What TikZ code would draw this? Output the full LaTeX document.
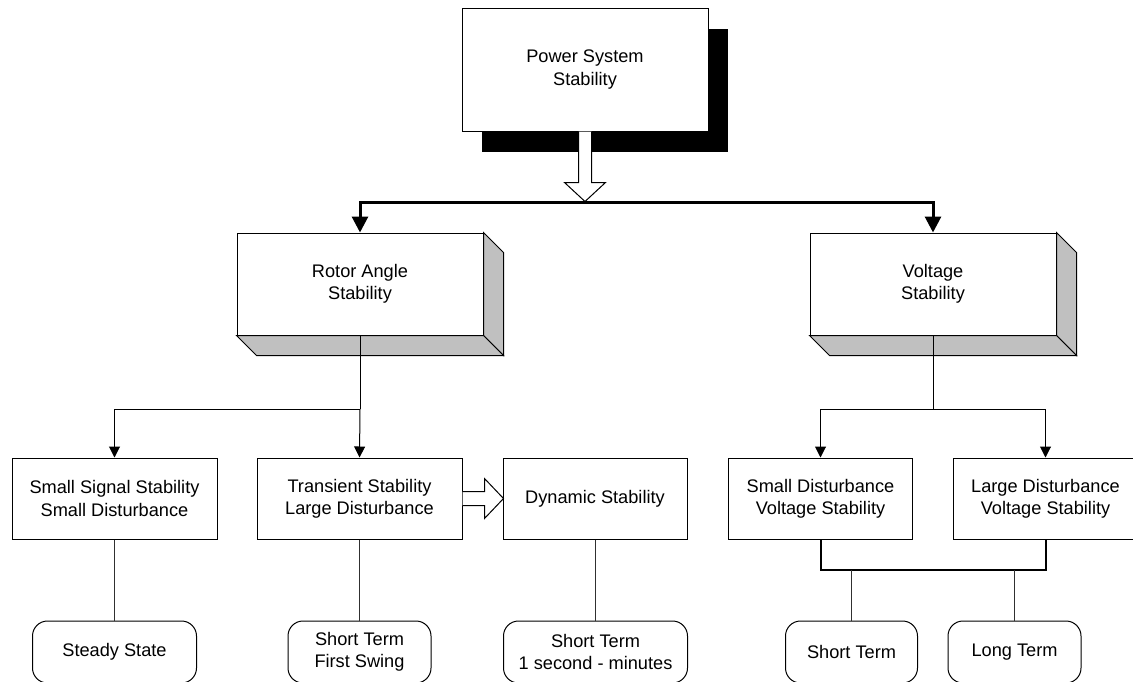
\documentclass[tikz,border=0pt]{standalone}
\usepackage{fontspec}
\setmainfont{Liberation Sans}
\usetikzlibrary{arrows.meta}
\definecolor{sidegray}{HTML}{C0C0C0}
\definecolor{linegray}{HTML}{303030}
\tikzset{
  txt/.style={font=\fontsize{18.2}{22.3}\selectfont, align=center},
  box/.style={txt, draw=black, line width=1pt, fill=white, inner sep=0pt, line join=miter},
  termbox/.style={box, rounded corners=15pt, minimum height=62pt},
  side/.style={draw=black, line width=1pt, fill=sidegray, line join=miter},
  hollow/.style={draw=black, line width=1pt, fill=white, line join=miter},
  bus/.style={line width=3pt, line join=miter, -{Triangle[length=16pt,width=16pt]}},
  branch/.style={draw=black, line width=1pt, -{Triangle[length=11pt,width=11pt]}},
  stem/.style={draw=linegray, line width=1.4pt},
  bar/.style={draw=black, line width=2pt, line join=miter}
}
\begin{document}
\begin{tikzpicture}[x=1pt,y=-1pt]
\useasboundingbox (0,0) rectangle (1133,681);
\clip (0,0) rectangle (1133,681);

% top block with its drop shadow
\node[fill=black, inner sep=0pt, minimum width=246pt, minimum height=123pt] (topshadow) at (605,90) {};
\node[box, minimum width=246pt, minimum height=123pt] (top) at (585,69.5) {Power System\\Stability};

% hollow arrow down to the bus
\draw[hollow, shift={(top.south)}] (-6.5,0) -- (-6.5,51) -- (-20.5,51) -- (0,70) -- (20.5,51) -- (6.5,51) -- (6.5,0);

% raised blocks
\node[box, minimum width=246pt, minimum height=102pt] (rotor) at (360,284) {Rotor Angle\\Stability};
\draw[side] (rotor.north east) -- ([shift={(20,20)}]rotor.north east) -- ([shift={(20,20)}]rotor.south east) -- (rotor.south east) -- cycle;
\draw[side] (rotor.south west) -- ([shift={(20,20)}]rotor.south west) -- ([shift={(20,20)}]rotor.south east) -- (rotor.south east) -- cycle;

\node[box, minimum width=246pt, minimum height=102pt] (volt) at (933,284) {Voltage\\Stability};
\draw[side] (volt.north east) -- ([shift={(20,20)}]volt.north east) -- ([shift={(20,20)}]volt.south east) -- (volt.south east) -- cycle;
\draw[side] (volt.south west) -- ([shift={(20,20)}]volt.south west) -- ([shift={(20,20)}]volt.south east) -- (volt.south east) -- cycle;

% bus from the top block
\coordinate (busmid) at (585,202);
\draw[bus] (busmid) -| (rotor.north);
\draw[bus] (busmid) -| (volt.north);

% second level
\node[box, minimum width=205pt, minimum height=81pt] (ss) at (114.5,498.5) {Small Signal Stability\\Small Disturbance};
\node[box, minimum width=205pt, minimum height=81pt] (ts) at (359.5,498.5) {Transient Stability\\Large Disturbance};
\node[box, minimum width=184pt, minimum height=81pt] (ds) at (595,498.5) {Dynamic Stability};
\node[box, minimum width=184pt, minimum height=81pt] (sd) at (820.5,498.5) {Small Disturbance\\Voltage Stability};
\node[box, minimum width=184pt, minimum height=81pt] (ld) at (1045.5,498.5) {Large Disturbance\\Voltage Stability};

% rotor angle branches
\coordinate (rj) at (rotor.south |- 0,409);
\draw[stem, draw=black, line width=1pt] (rotor.south) -- (rj);
\draw[branch] (rj) -| (ss.north);
\draw[branch] (rj) -- (ts.north);

% voltage branches
\coordinate (vj) at (volt.south |- 0,409);
\draw[stem, draw=black, line width=1pt] (volt.south) -- (vj);
\draw[branch] (vj) -| (sd.north);
\draw[branch] (vj) -| (ld.north);

% hollow arrow from transient to dynamic
\draw[hollow, shift={(ts.east)}] (0,-7) -- (22,-7) -- (22,-20) -- (41,0) -- (22,20) -- (22,7) -- (0,7);

% time frames
\node[termbox, minimum width=164pt] (st) at (114.5,652) {Steady State};
\node[termbox, minimum width=143pt] (sf) at (359.5,652) {Short Term\\First Swing};
\node[termbox, minimum width=184pt] (sm) at (595.5,652) {Short Term\\1 second - minutes};
\node[termbox, minimum width=132pt] (sh) at (851.5,652) {Short Term};
\node[termbox, minimum width=133pt] (lt) at (1014.5,652) {Long Term};

\draw[stem] (ss.south) -- (st.north);
\draw[stem] (ts.south) -- (sf.north);
\draw[stem] (ds.south -| sm.north) -- (sm.north);

% voltage stability frames share one bar
\coordinate (vbar) at (0,570);
\draw[bar] (sd.south) -- (sd.south |- vbar) -- (ld.south |- vbar) -- (ld.south);
\draw[stem] (sh.north) -- (sh.north |- vbar);
\draw[stem] (lt.north) -- (lt.north |- vbar);
\end{tikzpicture}
\end{document}
